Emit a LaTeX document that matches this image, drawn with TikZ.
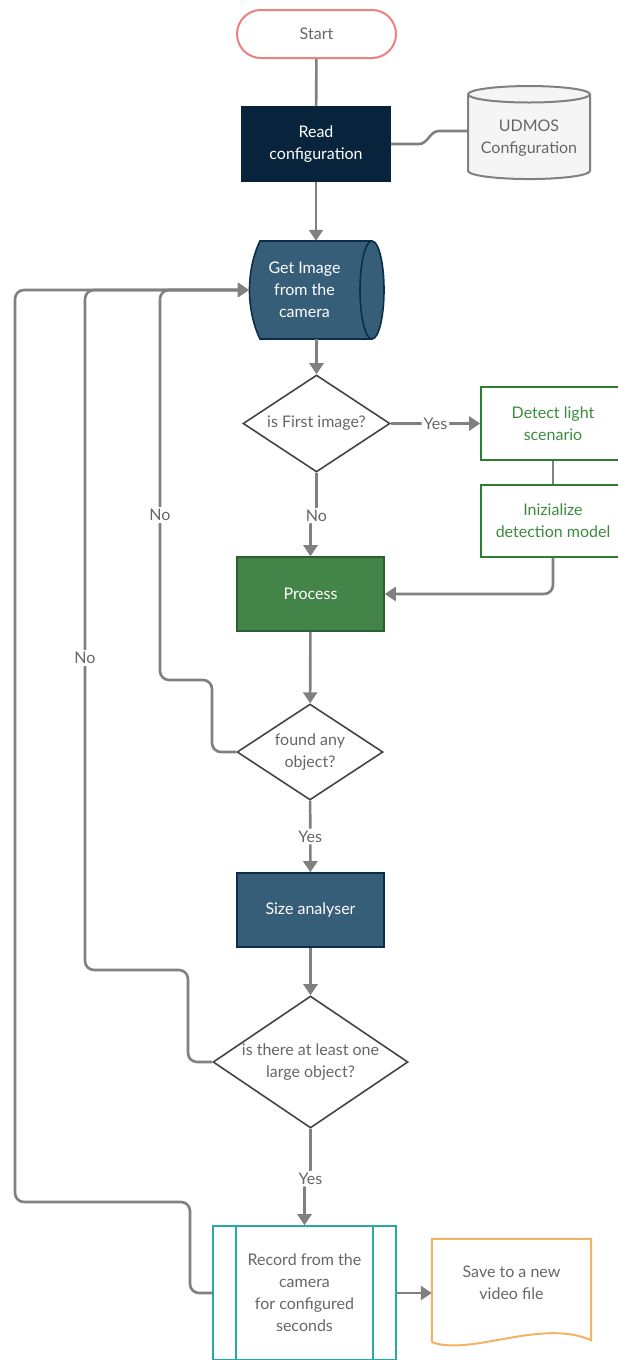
\documentclass[tikz,border=0pt]{standalone}
\usepackage{fontspec}
\setmainfont{Lato}
\usepackage{xcolor}
\usetikzlibrary{shapes.geometric, arrows.meta, positioning}

\definecolor{navy}{HTML}{08243C}
\definecolor{steel}{HTML}{375E79}
\definecolor{steeledge}{HTML}{0C2D48}
\definecolor{leaf}{HTML}{438449}
\definecolor{leafedge}{HTML}{2C5E30}
\definecolor{greenline}{HTML}{2E7D32}
\definecolor{greentext}{HTML}{3B8B3F}
\definecolor{tealline}{HTML}{2BA8A4}
\definecolor{apricot}{HTML}{F4B266}
\definecolor{salmon}{HTML}{EE8080}
\definecolor{txtgray}{HTML}{666666}
\definecolor{wiregray}{HTML}{808080}
\definecolor{edgegray}{HTML}{444444}
\definecolor{paper}{HTML}{F5F5F5}

\begin{document}
\begin{tikzpicture}[x=1pt, y=-1pt,
  every node/.style={font=\fontsize{16}{22}\selectfont, align=center, text=txtgray},
  flowbox/.style={draw, rectangle, line width=1.6pt, minimum width=147pt, minimum height=74pt},
  darkbox/.style={flowbox, fill=#1, draw=steeledge, text=white},
  greenbox/.style={flowbox, fill=white, draw=greenline, text=greentext, minimum width=144pt, minimum height=73pt},
  decision/.style={diamond, aspect=1.5, draw=edgegray, line width=1.6pt, fill=white, inner sep=-8pt},
  wire/.style={draw=wiregray, line width=2.6pt, rounded corners=9pt},
  arrow/.style={wire, -{Triangle[length=11pt, width=14pt]}},
  lbl/.style={fill=white, inner sep=2pt}]
\useasboundingbox (0,0) rectangle (618,1360);

% main column
\node (start) [draw=salmon, line width=2pt, rounded corners=24pt, minimum width=159pt, minimum height=48pt] at (316.5,34) {Start};
\node (read) [darkbox=navy, draw=navy, minimum width=148pt] at (316,144) {Read\\configuration};
\node (udmos) [cylinder, shape border rotate=90, aspect=0.16, draw=wiregray, line width=2pt, cylinder uses custom fill, cylinder body fill=paper, cylinder end fill=paper, minimum width=122pt, minimum height=93pt] at (529,138.5) {UDMOS\\Configuration};
% direct access storage drawn round the body
\fill[steel] (260,241) -- (372,241) arc[start angle=-90, end angle=90, x radius=12, y radius=49] -- (260,339) .. controls (246,310) and (246,270) .. cycle;
\draw[steeledge, line width=1.6pt] (260,241) -- (372,241) arc[start angle=-90, end angle=90, x radius=12, y radius=49] -- (260,339) .. controls (246,310) and (246,270) .. cycle;
\draw[steeledge, line width=1.6pt] (372,241) arc[start angle=-90, end angle=-270, x radius=12, y radius=49];
\node (getimg) [text=white, minimum width=111pt, minimum height=98pt] at (304.5,290) {Get Image\\from the\\camera};
\node (first) [decision, minimum width=147pt, minimum height=97pt] at (316.5,423.5) {is First image?};
\node (detect) [greenbox] at (553,423.5) {Detect light\\scenario};
\node (init) [greenbox, minimum height=72pt] at (553,521) {Inizialize\\detection model};
\node (process) [darkbox=leaf, draw=leafedge] at (310.5,594) {Process};
\node (found) [decision, minimum width=146pt, minimum height=96pt] at (310,752) {found any\\object?};
\node (size) [darkbox=steel] at (310.5,910) {Size analyser};
\node (large) [decision, minimum width=195pt, minimum height=132pt] at (310.5,1062) {is there at least one\\large object?};
\node (record) [flowbox, draw=tealline, minimum width=183pt, minimum height=134pt] at (304.5,1293) {Record from the\\camera\\for configured\\seconds};
\draw[tealline, line width=1.6pt] ([xshift=24pt]record.north west) -- ([xshift=24pt]record.south west);
\draw[tealline, line width=1.6pt] ([xshift=-24pt]record.north east) -- ([xshift=-24pt]record.south east);
\node (save) [minimum width=159pt, minimum height=88pt] at (511.5,1283) {Save to a new\\video file};
\draw[apricot, line width=2pt] ([yshift=-15pt]save.south west) -- (save.north west) -- (save.north east) -- ([yshift=-13pt]save.south east) .. controls +(-50,-22) and +(40,14) .. ([yshift=-15pt]save.south west);

% connectors
\draw[wire] (start) -- (read);
\draw[wire, sharp corners] (read.east) -- ++(28,0) to[out=0, in=180] ([xshift=-28pt, yshift=7.5pt]udmos.west) -- ([yshift=7.5pt]udmos.west);
\draw[arrow] (read) -- (read.south |- getimg.north);
\draw[arrow] (getimg.south -| first.north) -- (first);
\draw[arrow] (first) -- node[lbl] {Yes} (detect);
\draw[wire] (detect) -- (init);
\draw[arrow] (init.south) |- (process.east);
\draw[arrow] (first.south) -- ++(0,43) node[lbl] {No} -| (process.north);
\draw[arrow] (process) -- (found);
\draw[arrow] (found.west) -- (212,752) -- (212,680) -- (160,680) -- (160,515) node[lbl] {No} |- (getimg.west);
\draw[arrow] (found) -- node[lbl] {Yes} (size);
\draw[arrow] (size) -- (large);
\draw[arrow] (large.west) -- (188,1062) -- (188,970) -- (85,970) -- (85,658) node[lbl] {No} |- (getimg.west);
\draw[arrow] (large.south) -- ++(0,50) node[lbl] {Yes} -| (record.north);
\draw[arrow] (record.west) -- (190,1293) -- (190,1202) -- (15,1202) |- (getimg.west);
\draw[arrow] (record.east) -- (record.east -| save.west);
\end{tikzpicture}
\end{document}
